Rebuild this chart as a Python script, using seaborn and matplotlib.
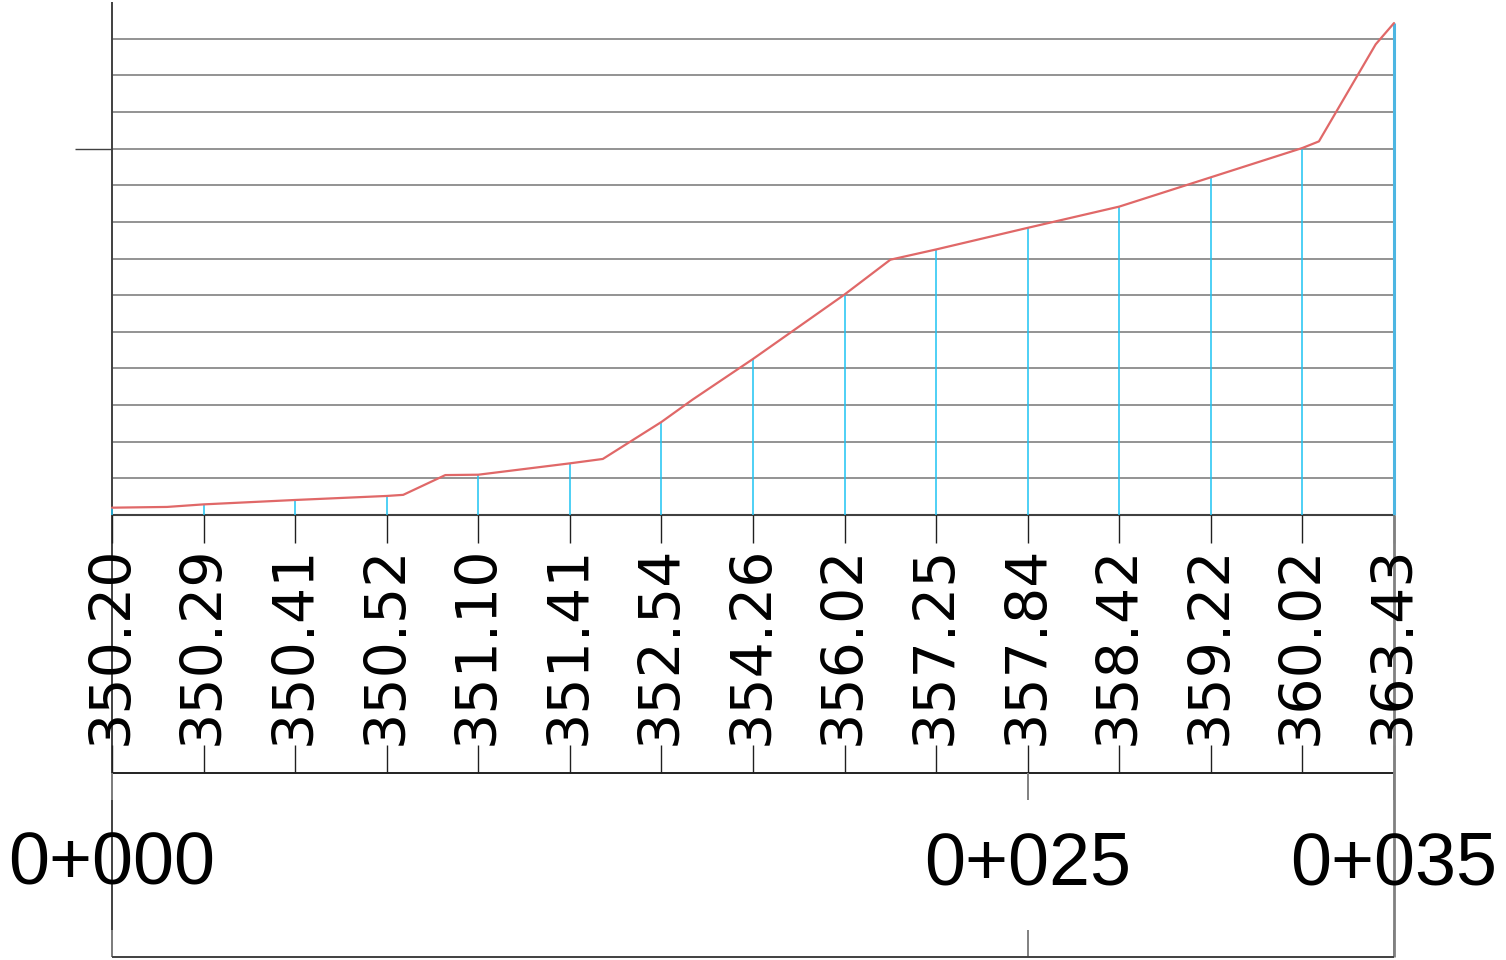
"""Longitudinal ground profile 0+000 .. 0+035"""
import matplotlib
matplotlib.use("Agg")
import matplotlib.pyplot as plt
from matplotlib import font_manager as fm
import seaborn as sns
import pandas as pd

# stations every 2.5 m and ground elevations read at them
stations = [0.0, 2.5, 5.0, 7.5, 10.0, 12.5, 15.0, 17.5, 20.0, 22.5, 25.0, 27.5, 30.0, 32.5, 35.0]
elevations = [350.20, 350.29, 350.41, 350.52, 351.10, 351.41, 352.54, 354.26,
              356.02, 357.25, 357.84, 358.42, 359.22, 360.02, 363.43]
elev_labels = ["350.20", "350.29", "350.41", "350.52", "351.10", "351.41", "352.54", "354.26",
               "356.02", "357.25", "357.84", "358.42", "359.22", "360.02", "363.43"]

# terrain break points between stations
break_chainage = [1.5, 7.95, 9.1, 13.4, 15.85, 21.25, 32.95, 34.5]
break_elev = [350.22, 350.55, 351.09, 351.53, 353.15, 356.97, 360.20, 362.85]

major_stations = [0.0, 25.0, 35.0]
major_labels = ["0+000", "0+025", "0+035"]

datum = 350.0
top_elev = 364.0

# layout: drawing is 1:1, pixels mapped straight to metres
W, H = 1506, 960
X0, X1 = 112, 1394
PX = (X1 - X0) / 35.0
Y0 = 515


def row(py):
    return datum + (Y0 - py) / PX


profile = pd.DataFrame({"chainage": stations + break_chainage,
                        "elev": elevations + break_elev}).sort_values("chainage")

sns.set_style("white")
fig = plt.figure(figsize=(W / 100, H / 100), dpi=100)
ax = fig.add_axes([0, 0, 1, 1])
ax.set_xlim(-X0 / PX, (W - X0) / PX)
ax.set_ylim(row(H), row(0))
ax.axis("off")

dejavu = fm.FontProperties(family="DejaVu Sans", size=41)
libsans = fm.FontProperties(family="Liberation Sans", size=53)

grid_c = "#808080"
dark = "#202020"

# grid
for e in range(int(datum) + 1, int(top_elev)):
    ax.hlines(e, 0, 35, color=grid_c, lw=1.2)
ax.hlines(datum, 0, 35, color="#404040", lw=1.5)
ax.vlines(0, row(957), top_elev, color="#404040", lw=1.4)
ax.hlines(360, -37 / PX, 0, color="#404040", lw=1.0)

# station verticals
ax.vlines(stations[:-1], datum, elevations[:-1], color="#1EC3F2", lw=1.1)
ax.vlines(stations[-1], datum, elevations[-1], color="#4DB6E2", lw=2.2)

sns.lineplot(data=profile, x="chainage", y="elev", color="#E06868", lw=1.6, ax=ax, sort=False)
ax.set_xlabel("")
ax.set_ylabel("")

# elevation band
ax.vlines(stations, row(543), datum, color=dark, lw=1.0)
ax.vlines(stations, row(773), row(745), color=dark, lw=1.0)
ax.hlines(row(773), 0, 35, color=dark, lw=1.4)
for s, lab in zip(stations, elev_labels):
    ax.text(s, row(645), lab, rotation=90, ha="center", va="center",
            color="black", fontproperties=dejavu)

# chainage band
ax.vlines(major_stations, row(800), row(773), color=grid_c, lw=1.4)
ax.vlines(major_stations, row(957), row(930), color=grid_c, lw=1.4)
ax.vlines(35, row(957), datum, color=grid_c, lw=2.0)
ax.hlines(row(957), 0, 35, color="#404040", lw=1.4)
for s, lab in zip(major_stations, major_labels):
    ax.text(s, row(865), lab, ha="center", va="center",
            color="black", fontproperties=libsans)

fig.savefig("out.png", dpi=100)
